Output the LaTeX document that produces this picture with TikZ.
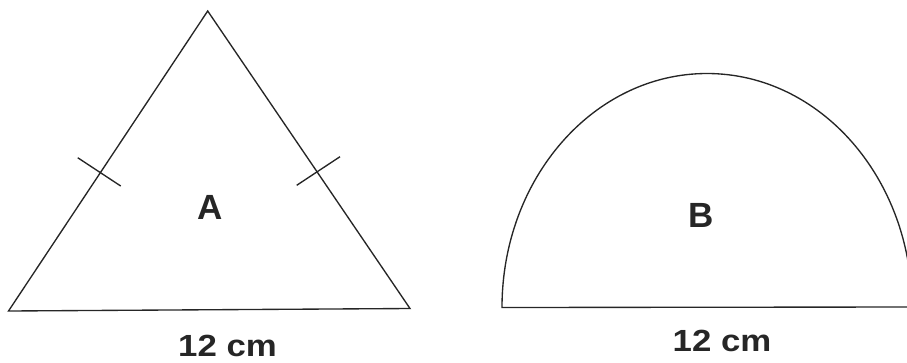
\documentclass[tikz,border=0pt]{standalone}
\usepackage{fontspec}
\setmainfont{Liberation Sans}
\newcommand{\widetext}[1]{\scalebox{1.16}[1.02]{#1}}
\tikzset{
  shape line/.style={draw=black!85, line width=1.35pt, line join=miter},
  big label/.style={font=\fontsize{35}{37}\selectfont\bfseries, inner sep=0pt, text=black!85},
  dim label/.style={font=\fontsize{30}{32}\selectfont\bfseries, inner sep=0pt, text=black!85},
}
\begin{document}
\begin{tikzpicture}[x=1pt, y=-1pt]
  \useasboundingbox (0,0) rectangle (907,362);
  \clip (0,0) rectangle (907,362);
  % triangle A
  \coordinate (apex) at (207.7,11);
  \coordinate (bl) at (8.5,311);
  \coordinate (br) at (410,308.5);
  \draw[shape line] (apex) -- (br) -- (bl) -- cycle;
  % tick marks
  \coordinate (t1a) at (77.7,157.7);
  \coordinate (t1b) at (120.7,186);
  \coordinate (t2a) at (340,156.7);
  \coordinate (t2b) at (296.7,185.3);
  \draw[shape line] (t1a) -- (t1b);
  \draw[shape line] (t2a) -- (t2b);
  \node[big label] (A) at (210,207.5) {A};
  \node[dim label] (dA) at (227.5,346) {\widetext{12 cm}};
  % half ellipse B
  \coordinate (sl) at (502,307.5);
  \coordinate (sr) at (912,307);
  \draw[shape line] (sr) -- (sl) arc[start angle=180, end angle=0, x radius=205, y radius=-234];
  \node[big label] (B) at (701.5,215.5) {B};
  \node[dim label] (dB) at (722,341) {\widetext{12 cm}};
\end{tikzpicture}
\end{document}
